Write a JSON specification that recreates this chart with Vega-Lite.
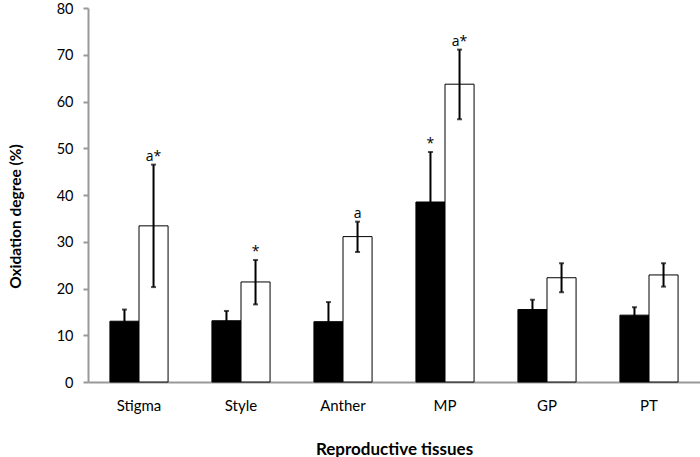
{
  "$schema": "https://vega.github.io/schema/vega-lite/v6.json",
  "width": 612,
  "height": 374,
  "autosize": {"type": "none"},
  "padding": {"left": 88, "top": 8, "right": 0, "bottom": 75},
  "background": "white",
  "config": {
    "view": {"stroke": null},
    "font": "Lato"
  },
  "data": {
    "values": [
      {"tissue": "Stigma", "group": "A", "value": 13.0, "low": 10.5, "high": 15.5, "label": ""},
      {"tissue": "Stigma", "group": "B", "value": 33.4, "low": 20.3, "high": 46.5, "label": "a*"},
      {"tissue": "Style", "group": "A", "value": 13.1, "low": 11.0, "high": 15.2, "label": ""},
      {"tissue": "Style", "group": "B", "value": 21.4, "low": 16.6, "high": 26.1, "label": "*"},
      {"tissue": "Anther", "group": "A", "value": 12.9, "low": 8.7, "high": 17.1, "label": ""},
      {"tissue": "Anther", "group": "B", "value": 31.1, "low": 27.8, "high": 34.3, "label": "a"},
      {"tissue": "MP", "group": "A", "value": 38.5, "low": 27.9, "high": 49.2, "label": "*"},
      {"tissue": "MP", "group": "B", "value": 63.7, "low": 56.2, "high": 71.1, "label": "a*"},
      {"tissue": "GP", "group": "A", "value": 15.5, "low": 13.4, "high": 17.6, "label": ""},
      {"tissue": "GP", "group": "B", "value": 22.3, "low": 19.2, "high": 25.4, "label": ""},
      {"tissue": "PT", "group": "A", "value": 14.3, "low": 12.6, "high": 16.0, "label": ""},
      {"tissue": "PT", "group": "B", "value": 22.9, "low": 20.4, "high": 25.4, "label": ""}
    ]
  },
  "encoding": {
    "x": {
      "field": "tissue",
      "type": "nominal",
      "sort": ["Stigma", "Style", "Anther", "MP", "GP", "PT"],
      "scale": {"paddingInner": 0.43, "paddingOuter": 0.215},
      "axis": {
        "title": "Reproductive tissues",
        "titleFont": "Lato",
        "titleFontSize": 17,
        "titleFontWeight": "bold",
        "titleColor": "black",
        "titlePadding": 28,
        "labelAngle": 0,
        "labelFont": "Lato",
        "labelFontSize": 15,
        "labelColor": "black",
        "labelPadding": 16,
        "ticks": false,
        "domainColor": "#999999",
        "domainWidth": 2
      }
    },
    "xOffset": {"field": "group", "type": "nominal", "scale": {"domain": ["A", "B"], "paddingInner": 0}}
  },
  "layer": [
    {
      "mark": {"type": "bar", "stroke": "black", "strokeWidth": 1},
      "encoding": {
        "y": {
          "field": "value",
          "type": "quantitative",
          "scale": {"domain": [0, 80], "nice": false},
          "axis": {
            "title": "Oxidation degree (%)",
            "titleFont": "Lato",
            "titleFontSize": 15.5,
            "titleFontWeight": "bold",
            "titleColor": "black",
            "titleX": -73,
            "titleY": 208,
            "titleAlign": "center",
            "titleBaseline": "middle",
            "values": [0, 10, 20, 30, 40, 50, 60, 70, 80],
            "grid": false,
            "labelFont": "Lato",
            "labelFontSize": 14.5,
            "labelColor": "black",
            "labelPadding": 10,
            "labelOffset": 1,
            "tickSize": 5,
            "tickColor": "#999999",
            "tickWidth": 2,
            "domainColor": "#999999",
            "domainWidth": 2
          }
        },
        "fill": {
          "field": "group",
          "type": "nominal",
          "scale": {"domain": ["A", "B"], "range": ["black", "white"]},
          "legend": null
        }
      }
    },
    {
      "mark": {"type": "rule", "color": "black", "strokeWidth": 2},
      "encoding": {
        "y": {"field": "low", "type": "quantitative"},
        "y2": {"field": "high"}
      }
    },
    {
      "mark": {"type": "tick", "color": "black", "size": 5, "thickness": 2},
      "encoding": {
        "y": {"field": "high", "type": "quantitative"}
      }
    },
    {
      "mark": {"type": "tick", "color": "black", "size": 5, "thickness": 2},
      "encoding": {
        "y": {"field": "low", "type": "quantitative"}
      }
    },
    {
      "transform": [{"filter": "datum.label !== ''"}],
      "mark": {"type": "text", "baseline": "bottom", "dy": -1, "fontSize": 14, "font": "Open Sans", "color": "black"},
      "encoding": {
        "y": {"field": "high", "type": "quantitative"},
        "text": {"field": "label"}
      }
    }
  ]
}
